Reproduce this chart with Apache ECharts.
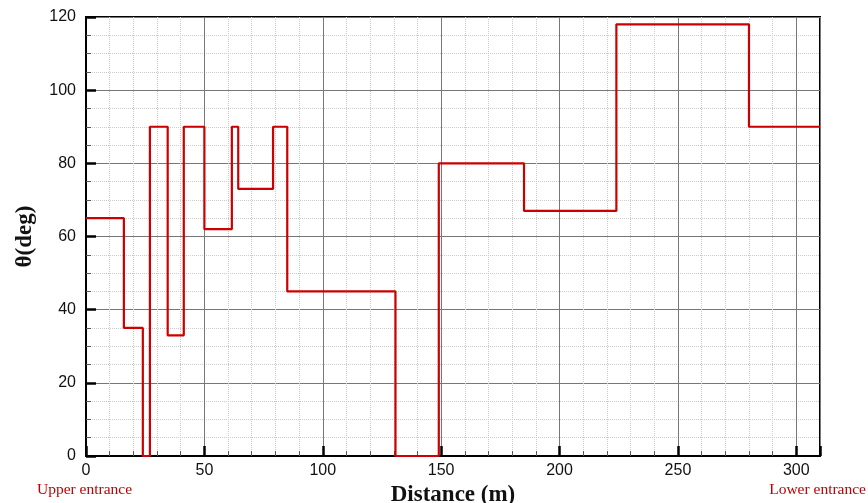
<!DOCTYPE html>
<html>
<head>
<meta charset="utf-8">
<script src="https://cdn.jsdelivr.net/npm/echarts@6/dist/echarts.min.js"></script>
<style>
  html, body { margin: 0; padding: 0; background: #fff; }
  #chart { width: 868px; height: 503px; }
</style>
</head>
<body>
<div id="chart"></div>
<script>
// start of each constant-angle stretch (m) and its angle (deg)
const distance = [0, 16, 24, 27, 34.5, 41.3, 50, 61.6, 64.3, 79, 85, 130.7, 149, 185, 224, 280, 310]
const theta = [65, 35, 0, 90, 33, 90, 62, 90, 73, 90, 45, 0, 80, 67, 118, 90, 90]

const points = distance.map((d, i) => [d, theta[i]])

const chart = echarts.init(document.getElementById('chart'))

const tickFont = { fontFamily: 'Liberation Sans', fontSize: 16, color: '#111' }
const nameFont = { fontFamily: 'Liberation Serif', fontSize: 23, fontWeight: 'bold', color: '#111' }

chart.setOption({
  animation: false,
  grid: {
    left: 86,
    right: 48,
    top: 17,
    bottom: 47,
    outerBoundsMode: 'none',
    show: true,
    borderColor: '#000',
    borderWidth: 2
  },
  xAxis: {
    type: 'value',
    min: 0,
    max: 310,
    interval: 50,
    name: 'Distance (m)',
    nameLocation: 'middle',
    nameGap: 19,
    nameTextStyle: nameFont,
    axisLine: { lineStyle: { color: '#000', width: 2 } },
    axisTick: { inside: true, length: 10, lineStyle: { color: '#000', width: 2.5 } },
    minorTick: { show: true, splitNumber: 5, length: 5, lineStyle: { color: '#555', width: 1 } },
    axisLabel: Object.assign({ margin: 7, showMaxLabel: false }, tickFont),
    splitLine: { lineStyle: { color: '#777', width: 1 } },
    minorSplitLine: { show: true, lineStyle: { color: '#ccc', type: 'dotted', width: 1 } }
  },
  yAxis: {
    type: 'value',
    min: 0,
    max: 120,
    interval: 20,
    name: 'θ(deg)',
    nameLocation: 'middle',
    nameGap: 49,
    nameRotate: 90,
    nameTextStyle: nameFont,
    axisLine: { lineStyle: { color: '#000', width: 2 } },
    axisTick: { inside: true, length: 10, lineStyle: { color: '#000', width: 2.5 } },
    minorTick: { show: true, splitNumber: 4, length: 5, lineStyle: { color: '#555', width: 1 } },
    axisLabel: Object.assign({ margin: 10 }, tickFont),
    splitLine: { lineStyle: { color: '#777', width: 1 } },
    minorSplitLine: { show: true, lineStyle: { color: '#ccc', type: 'dotted', width: 1 } }
  },
  graphic: [
    {
      type: 'text',
      left: 37,
      top: 482,
      style: { text: 'Upper entrance', fill: '#c00000', font: '15.5px "Liberation Serif"' }
    },
    {
      type: 'text',
      right: 2,
      top: 482,
      style: { text: 'Lower entrance', fill: '#c00000', font: '15.5px "Liberation Serif"' }
    }
  ],
  series: [{
    type: 'line',
    step: 'end',
    data: points,
    showSymbol: false,
    lineStyle: { color: '#cc0000', width: 2.2 }
  }]
})
</script>
</body>
</html>
